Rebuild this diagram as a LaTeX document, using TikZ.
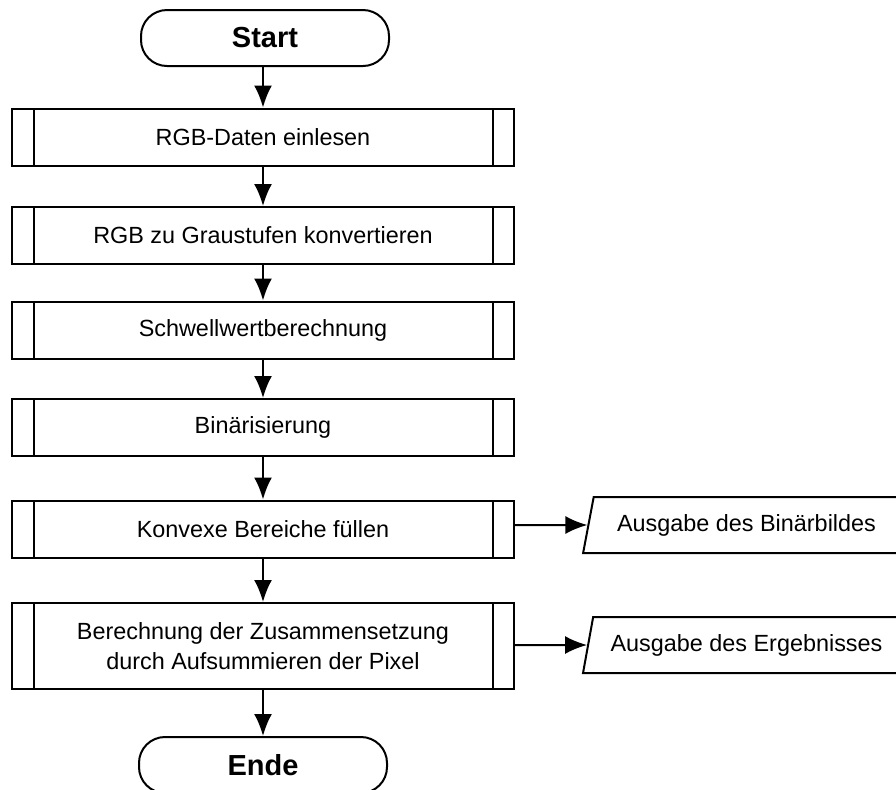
\documentclass[tikz,border=0pt]{standalone}
\usepackage{fontspec}
\setmainfont{Liberation Sans}
\usetikzlibrary{shapes.geometric,arrows.meta}

\begin{document}
\begin{tikzpicture}[x=0.5pt,y=-0.5pt]
       \tikzset{>={Latex[length=11pt,width=9pt]}}
       \tikzset{
         terminal/.style={draw, line width=1pt, rounded corners=13pt,
           minimum width=124pt, minimum height=28pt,
           font=\fontsize{14.5}{16}\selectfont\bfseries},
         subproc/.style={draw, line width=1pt, minimum width=251pt,
           minimum height=28.5pt, align=center,
           font=\fontsize{11.7}{15}\selectfont,
           path picture={
             \draw[line width=1pt] ([xshift=11pt]path picture bounding box.north west)
               -- ([xshift=11pt]path picture bounding box.south west);
             \draw[line width=1pt] ([xshift=-10.5pt]path picture bounding box.north east)
               -- ([xshift=-10.5pt]path picture bounding box.south east);
           }},
         ausgabe/.style={draw, line width=1pt, trapezium,
           trapezium left angle=75, trapezium right angle=105,
           trapezium stretches=true, minimum width=163.5pt, minimum height=28pt,
           font=\fontsize{11.7}{15}\selectfont},
         pfeil/.style={->, line width=1pt}
       }
       \useasboundingbox (0,0) rectangle (896,789);

       % Ablauf von oben nach unten
       \node[terminal] (start) at (265,38) {Start};
       \node[subproc] (einlesen) at (263,137) {RGB-Daten einlesen};
       \node[subproc] (grau) at (263,235.5) {RGB zu Graustufen konvertieren};
       \node[subproc] (schwelle) at (263,330) {Schwellwertberechnung};
       \node[subproc] (binaer) at (263,427.5) {Binärisierung};
       \node[subproc] (fuellen) at (263,529) {Konvexe Bereiche füllen};
       \node[subproc, minimum height=43pt] (summe) at (263,646)
         {Berechnung der Zusammensetzung\\durch Aufsummieren der Pixel};
       \node[terminal] (ende) at (263,765) {Ende};

       % Ausgaben rechts
       \node[ausgabe] (bild) at (746.5,525) {Ausgabe des Binärbildes};
       \node[ausgabe] (ergebnis) at (746.5,645) {Ausgabe des Ergebnisses};

       \draw[pfeil] (start.south -| einlesen) -- (einlesen);
       \draw[pfeil] (einlesen) -- (grau);
       \draw[pfeil] (grau) -- (schwelle);
       \draw[pfeil] (schwelle) -- (binaer);
       \draw[pfeil] (binaer) -- (fuellen);
       \draw[pfeil] (fuellen) -- (summe);
       \draw[pfeil] (summe) -- (ende);
       \draw[pfeil] (fuellen.east |- bild) -- (bild);
       \draw[pfeil] (summe.east |- ergebnis) -- (ergebnis);
   \end{tikzpicture}
\end{document}
